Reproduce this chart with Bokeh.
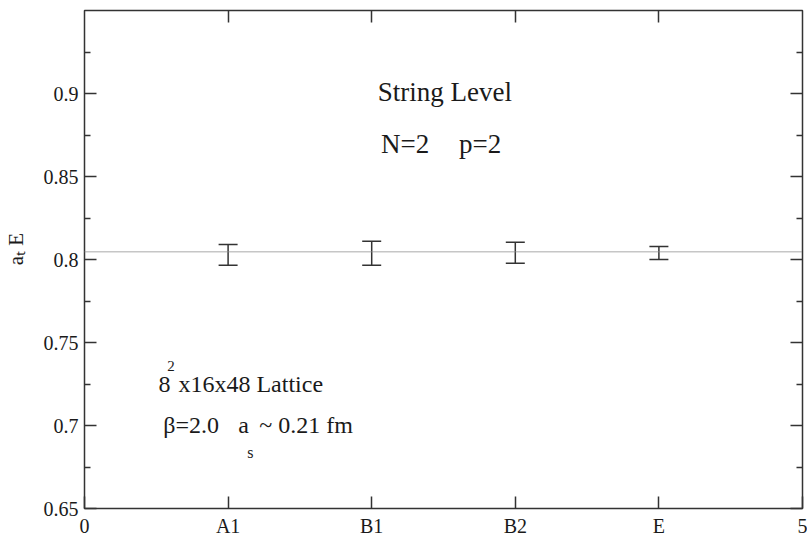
from bokeh.plotting import figure
from bokeh.models import (ColumnDataSource, Whisker, TeeHead, Span, Label,
                          FixedTicker, LinearAxis, Range1d)
from bokeh.embed import file_html
from bokeh.resources import INLINE

# ---- data ----
categories = ["A1", "B1", "B2", "E"]
positions = [1, 2, 3, 4]
energy = [0.8028, 0.8038, 0.8041, 0.8039]
error = [0.0062, 0.0072, 0.0063, 0.0039]
fit_value = 0.8046

x_ticks = [0, 1, 2, 3, 4, 5]
x_tick_labels = ["0", "A1", "B1", "B2", "E", "5"]
y_ticks = [0.65, 0.70, 0.75, 0.80, 0.85, 0.90]
y_minor = [0.675, 0.725, 0.775, 0.825, 0.875, 0.925]

FONT = "'Liberation Serif', 'Times New Roman', serif"
INK = "#333333"
TXT = "#1a1a1a"

p = figure(width=807, height=539, output_backend="svg", toolbar_location=None,
           x_range=Range1d(0, 5), y_range=Range1d(0.65, 0.95),
           x_axis_location=None, y_axis_location=None,
           min_border_left=83, min_border_right=5, min_border_top=10,
           min_border_bottom=29)
p.grid.visible = False
p.outline_line_color = INK
p.outline_line_width = 1.5
p.background_fill_color = "white"
p.border_fill_color = "white"

def style_axis(ax, show_labels, minor):
    ax.axis_line_color = None
    ax.major_tick_in = 12
    ax.major_tick_out = 0
    ax.major_tick_line_color = INK
    ax.major_tick_line_width = 1.5
    ax.minor_tick_in = 6 if minor else 0
    ax.minor_tick_out = 0
    ax.minor_tick_line_color = INK if minor else None
    ax.minor_tick_line_width = 1.5
    ax.major_label_text_font = FONT
    ax.major_label_text_color = TXT
    ax.major_label_text_font_size = "20px"
    ax.major_label_standoff = 6 if show_labels else 0

xt = FixedTicker(ticks=x_ticks)
yt = FixedTicker(ticks=y_ticks, minor_ticks=y_minor)

bottom = LinearAxis(ticker=xt,
                    major_label_overrides={t: s for t, s in zip(x_ticks, x_tick_labels)})
style_axis(bottom, True, False)
p.add_layout(bottom, "below")

top = LinearAxis(ticker=FixedTicker(ticks=positions),
                 major_label_overrides={t: "" for t in positions})
style_axis(top, False, False)
p.add_layout(top, "above")

left = LinearAxis(ticker=yt,
                  major_label_overrides={t: ("%g" % t) for t in y_ticks},
                  axis_label="\u00a0\u00a0\u00a0\u00a0a\u209c E")
style_axis(left, True, True)
left.axis_label_text_font = FONT
left.axis_label_text_font_style = "normal"
left.axis_label_text_font_size = "21px"
left.axis_label_text_color = TXT
left.axis_label_standoff = 13
p.add_layout(left, "left")

right = LinearAxis(ticker=yt, major_label_overrides={t: "" for t in y_ticks})
style_axis(right, False, True)
p.add_layout(right, "right")

# fit line
p.add_layout(Span(location=fit_value, dimension="width",
                  line_color="#8c8c8c", line_width=1.5, line_dash="1 1"))

# error bars
src = ColumnDataSource(dict(
    x=positions,
    upper=[v + e for v, e in zip(energy, error)],
    lower=[v - e for v, e in zip(energy, error)],
))
p.add_layout(Whisker(source=src, base="x", upper="upper", lower="lower",
                     line_color=INK, line_width=1.5,
                     upper_head=TeeHead(size=19, line_color=INK, line_width=1.5),
                     lower_head=TeeHead(size=19, line_color=INK, line_width=1.5)))

def txt(x, y, s, size, align="left"):
    p.add_layout(Label(x=x, y=y, text=s,
                       text_font=FONT, text_font_size=size,
                       text_color=TXT, text_align=align,
                       text_baseline="alphabetic"))

# in-plot texts
txt(2.51, 0.9008, "String Level", "27px", align="center")
txt(2.065, 0.8696, "N=2", "27px")
txt(2.608, 0.8696, "p=2", "27px")

txt(0.515, 0.725, "8", "24px")
txt(0.577, 0.7358, "2", "15px")
txt(0.654, 0.725, "x16x48 Lattice", "24px")

txt(0.549, 0.7004, "\u03b2=2.0", "24px")
txt(1.071, 0.7004, "a", "24px")
txt(1.134, 0.6836, "s", "16px")
txt(1.217, 0.7004, "~ 0.21 fm", "24px")

open("out.html", "w").write(file_html(p, INLINE))
